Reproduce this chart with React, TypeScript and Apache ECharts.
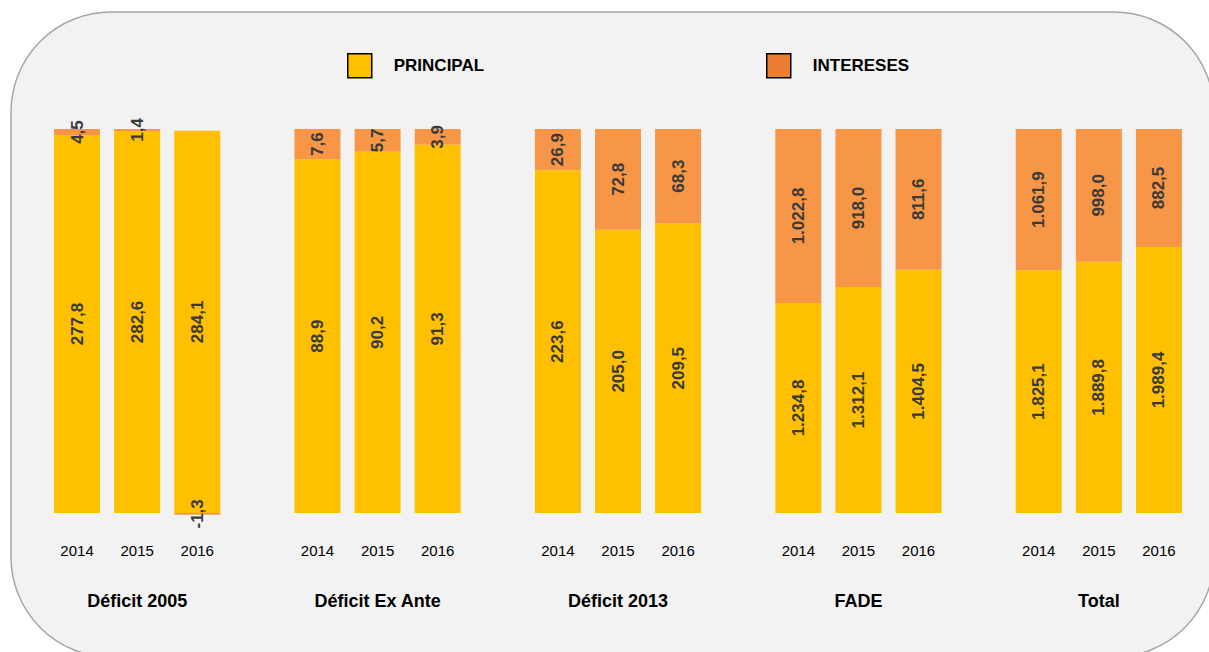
import React, { useEffect, useRef } from "react";
import * as echarts from "echarts";

const groups = ["Déficit 2005", "Déficit Ex Ante", "Déficit 2013", "FADE", "Total"];
const years = ["2014", "2015", "2016"];
const principal = [
  [277.8, 282.6, 284.1],
  [88.9, 90.2, 91.3],
  [223.6, 205.0, 209.5],
  [1234.8, 1312.1, 1404.5],
  [1825.1, 1889.8, 1989.4],
];
const intereses = [
  [4.5, 1.4, -1.3],
  [7.6, 5.7, 3.9],
  [26.9, 72.8, 68.3],
  [1022.8, 918.0, 811.6],
  [1061.9, 998.0, 882.5],
];
const seriesNames = ["PRINCIPAL", "INTERESES"];

const FONT = "'Liberation Sans', Arial, sans-serif";

function fmt(v: number): string {
  const neg = v < 0;
  const [i, d] = Math.abs(v).toFixed(1).split(".");
  const ip = i.replace(/\B(?=(\d{3})+(?!\d))/g, ".");
  return (neg ? "-" : "") + ip + "," + d;
}

export default function App() {
  const ref = useRef<HTMLDivElement>(null);
  useEffect(() => {
    if (!ref.current) return;
    const chart = echarts.init(ref.current, null, { renderer: "svg" });

    const cats: string[] = [];
    const pData: any[] = [];
    const iData: any[] = [];
    groups.forEach((g, gi) => {
      years.forEach((y, yi) => {
        cats.push(g + "|" + y);
        const p = principal[gi][yi];
        const it = intereses[gi][yi];
        const tot = Math.abs(p) + Math.abs(it);
        pData.push({ value: (p / tot) * 100, raw: p });
        iData.push({ value: (it / tot) * 100, raw: it });
      });
      if (gi < groups.length - 1) {
        cats.push("gap" + gi);
        pData.push("-");
        iData.push("-");
      }
    });

    const labelCfg = {
      show: true,
      position: "inside",
      rotate: 90,
      color: "#3A3A3A",
      fontWeight: "bold",
      fontSize: 17,
      fontFamily: FONT,
      formatter: (p: any) => (p.data && p.data.raw !== undefined ? fmt(p.data.raw) : ""),
    };

    const legendText = { fontSize: 17, fontWeight: "bold", color: "#000", fontFamily: FONT, padding: [0, 0, 0, 17] };

    chart.setOption({
      animation: false,
      textStyle: { fontFamily: FONT },
      graphic: [
        {
          type: "rect",
          z: -10,
          shape: { x: 11, y: 12, width: 1203, height: 645, r: 100 },
          style: { fill: "#F2F2F2", stroke: "#A6A6A6", lineWidth: 1.5 },
          silent: true,
        },
      ],
      legend: [
        {
          left: 347,
          top: 53,
          padding: 0,
          selectedMode: false,
          icon: "rect",
          itemWidth: 24,
          itemHeight: 24,
          data: [{ name: seriesNames[0], itemStyle: { color: "#FFC000", borderColor: "#000", borderWidth: 1.5 } }],
          textStyle: legendText,
        },
        {
          left: 766,
          top: 53,
          padding: 0,
          selectedMode: false,
          icon: "rect",
          itemWidth: 24,
          itemHeight: 24,
          data: [{ name: seriesNames[1], itemStyle: { color: "#ED7D31", borderColor: "#000", borderWidth: 1.5 } }],
          textStyle: legendText,
        },
      ],
      grid: { left: 47, right: 20, top: 129, bottom: 139 },
      xAxis: [
        {
          type: "category",
          data: cats,
          axisLine: { show: false },
          axisTick: { show: false },
          axisLabel: {
            interval: 0,
            margin: 30,
            fontSize: 15,
            color: "#000",
            fontFamily: FONT,
            formatter: (v: string) => (v.indexOf("|") >= 0 ? v.split("|")[1] : ""),
          },
        },
        {
          type: "category",
          position: "bottom",
          data: cats,
          axisLine: { show: false },
          axisTick: { show: false },
          axisLabel: {
            interval: 0,
            margin: 79,
            fontSize: 18,
            fontWeight: "bold",
            color: "#000",
            fontFamily: FONT,
            formatter: (v: string) => {
              const parts = v.split("|");
              return parts.length === 2 && parts[1] === years[1] ? parts[0] : "";
            },
          },
        },
      ],
      yAxis: { type: "value", min: 0, max: 100, show: false },
      series: [
        {
          name: seriesNames[0],
          type: "bar",
          stack: "a",
          barWidth: 46,
          clip: false,
          itemStyle: { color: "#FFC000" },
          label: labelCfg,
          data: pData,
        },
        {
          name: seriesNames[1],
          type: "bar",
          stack: "a",
          barWidth: 46,
          clip: false,
          itemStyle: { color: "#F79646" },
          label: labelCfg,
          data: iData,
        },
      ],
    });
    return () => chart.dispose();
  }, []);
  return (
    <div
      ref={ref}
      style={{ position: "fixed", left: 0, top: 0, width: 1209, height: 652, background: "#fff" }}
    />
  );
}
